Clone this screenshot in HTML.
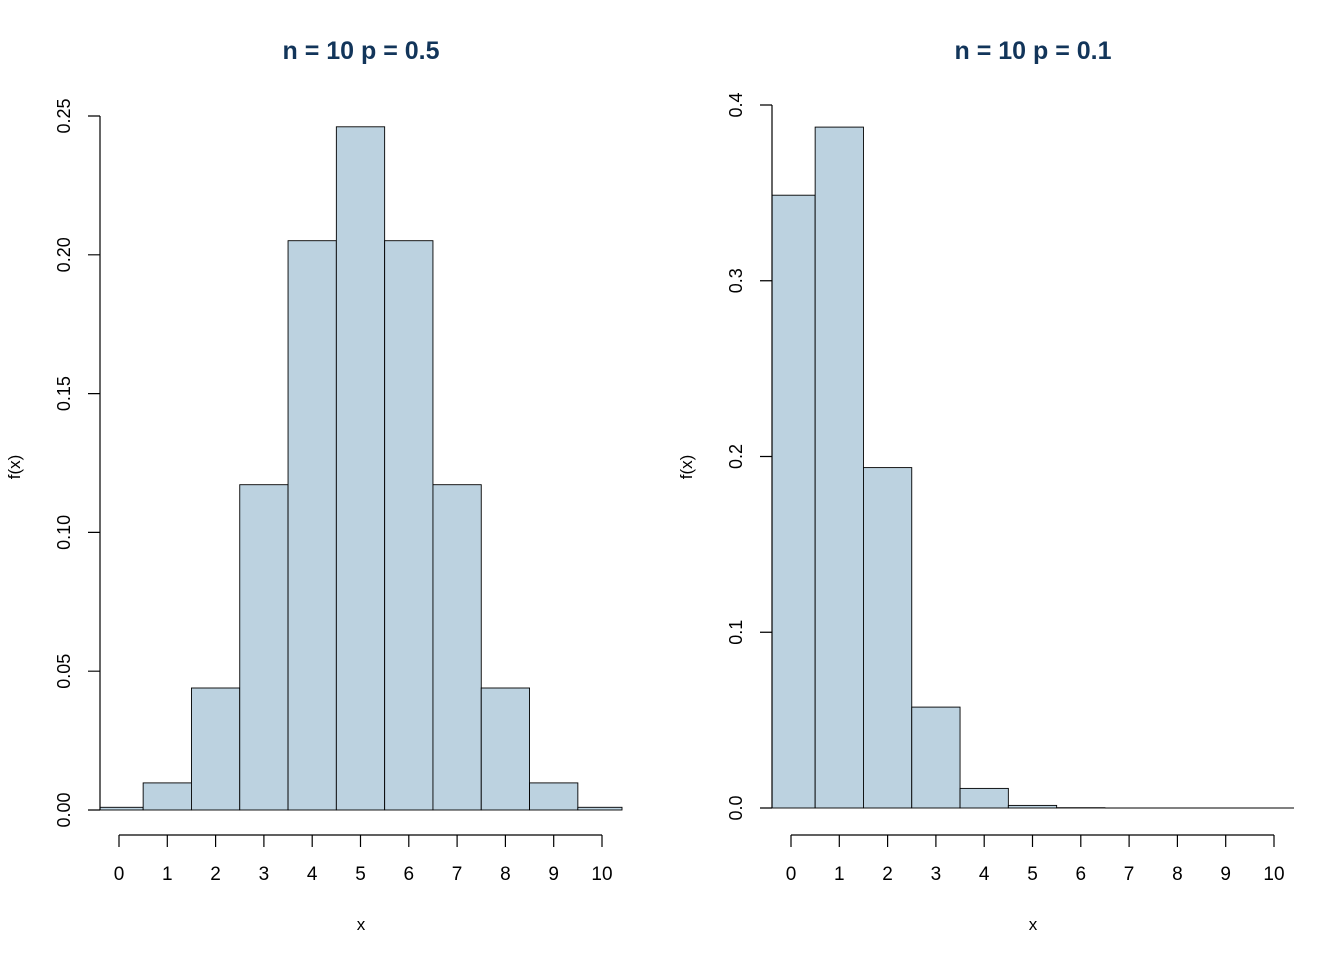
<!DOCTYPE html>
<html><head><meta charset="utf-8"><style>
body{margin:0;background:#fff}
svg{display:block;font-family:"Liberation Sans",sans-serif}
</style></head><body>
<svg width="1344" height="960" viewBox="0 0 1344 960" xmlns="http://www.w3.org/2000/svg">
<g fill="#bcd2e0" stroke="#000" stroke-width="0.9">
<rect x="100" y="807.3" width="43.15" height="2.7"/>
<rect x="143.15" y="782.9" width="48.3" height="27.1"/>
<rect x="191.45" y="688" width="48.3" height="122"/>
<rect x="239.75" y="484.7" width="48.3" height="325.3"/>
<rect x="288.05" y="240.7" width="48.3" height="569.3"/>
<rect x="336.35" y="126.8" width="48.3" height="683.2"/>
<rect x="384.65" y="240.7" width="48.3" height="569.3"/>
<rect x="432.95" y="484.7" width="48.3" height="325.3"/>
<rect x="481.25" y="688" width="48.3" height="122"/>
<rect x="529.55" y="782.9" width="48.3" height="27.1"/>
<rect x="577.85" y="807.3" width="44.15" height="2.7"/>

<rect x="772" y="195.2" width="43.15" height="612.8"/>
<rect x="815.15" y="127.1" width="48.3" height="680.9"/>
<rect x="863.45" y="467.6" width="48.3" height="340.4"/>
<rect x="911.75" y="707.1" width="48.3" height="100.9"/>
<rect x="960.05" y="788.4" width="48.3" height="19.6"/>
<rect x="1008.35" y="805.4" width="48.3" height="2.6"/>
<rect x="1056.65" y="807.7" width="48.3" height="0.3"/>
<line x1="1104.95" y1="808" x2="1294" y2="808"/>
</g>
<g stroke="#000" stroke-width="1.2" fill="none">
<path d="M100 116V810M88 810H100M88 671.2H100M88 532.4H100M88 393.6H100M88 254.8H100M88 116H100"/>
<path d="M119 835H602M119 835v12M167.3 835v12M215.6 835v12M263.9 835v12M312.2 835v12M360.5 835v12M408.8 835v12M457.1 835v12M505.4 835v12M553.7 835v12M602 835v12"/>
<path d="M772 105V808M760 808H772M760 632.25H772M760 456.5H772M760 280.75H772M760 105H772"/>
<path d="M791 835H1274M791 835v12M839.3 835v12M887.6 835v12M935.9 835v12M984.2 835v12M1032.5 835v12M1080.8 835v12M1129.1 835v12M1177.4 835v12M1225.7 835v12M1274 835v12"/>
</g>
<g font-size="19" text-anchor="middle" fill="#000">
<text x="119" y="880">0</text><text x="167.3" y="880">1</text><text x="215.6" y="880">2</text><text x="263.9" y="880">3</text><text x="312.2" y="880">4</text><text x="360.5" y="880">5</text><text x="408.8" y="880">6</text><text x="457.1" y="880">7</text><text x="505.4" y="880">8</text><text x="553.7" y="880">9</text><text x="602" y="880">10</text>
<text x="791" y="880">0</text><text x="839.3" y="880">1</text><text x="887.6" y="880">2</text><text x="935.9" y="880">3</text><text x="984.2" y="880">4</text><text x="1032.5" y="880">5</text><text x="1080.8" y="880">6</text><text x="1129.1" y="880">7</text><text x="1177.4" y="880">8</text><text x="1225.7" y="880">9</text><text x="1274" y="880">10</text>
<text x="361" y="930" font-size="17">x</text><text x="1033" y="930" font-size="17">x</text>
<g font-size="18">
<text transform="translate(70,810) rotate(-90)">0.00</text>
<text transform="translate(70,671.2) rotate(-90)">0.05</text>
<text transform="translate(70,532.4) rotate(-90)">0.10</text>
<text transform="translate(70,393.6) rotate(-90)">0.15</text>
<text transform="translate(70,254.8) rotate(-90)">0.20</text>
<text transform="translate(70,116) rotate(-90)">0.25</text>
<text transform="translate(742,808) rotate(-90)">0.0</text>
<text transform="translate(742,632.25) rotate(-90)">0.1</text>
<text transform="translate(742,456.5) rotate(-90)">0.2</text>
<text transform="translate(742,280.75) rotate(-90)">0.3</text>
<text transform="translate(742,105) rotate(-90)">0.4</text>
</g>
<text transform="translate(20,467) rotate(-90)" font-size="17">f(x)</text>
<text transform="translate(692,467) rotate(-90)" font-size="17">f(x)</text>
<text x="361" y="59" font-size="25" font-weight="bold" fill="#12355a">n = 10 p = 0.5</text>
<text x="1033" y="59" font-size="25" font-weight="bold" fill="#12355a">n = 10 p = 0.1</text>
</g>
</svg>
</body></html>
